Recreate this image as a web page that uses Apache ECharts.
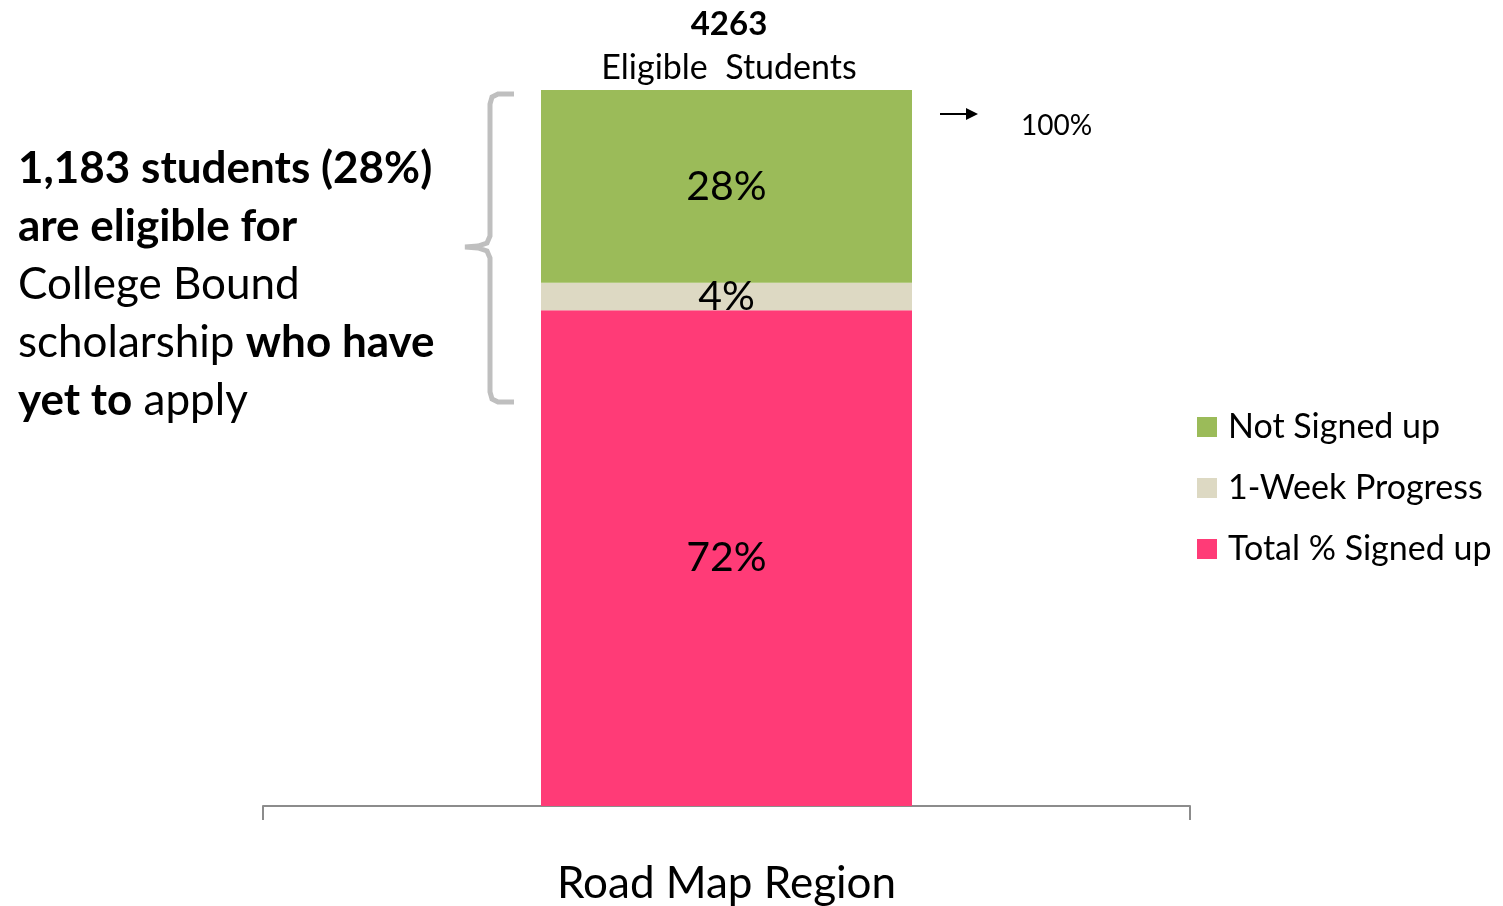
<!DOCTYPE html>
<html>
<head>
<meta charset="utf-8">
<script src="https://cdn.jsdelivr.net/npm/echarts@6/dist/echarts.min.js"></script>
<style>
  html, body { margin: 0; padding: 0; background: #fff; }
  #main { width: 1503px; height: 906px; }
</style>
</head>
<body>
<div id="main"></div>
<script>
var categories = ['Road Map Region']
var totalSigned = [72]
var weekProgress = [4]
var notSigned = [28]
var eligibleTotal = '4263'

var font = 'Lato'
var chartDom = document.getElementById('main')
var myChart = echarts.init(chartDom)

var pctLabel = {
  show: true,
  position: 'inside',
  color: '#000',
  fontFamily: font,
  fontSize: 41,
  formatter: function (p) { return p.value + '%' }
}

var option = {
  backgroundColor: '#fff',
  animation: false,
  textStyle: { fontFamily: font },
  grid: { left: 263, right: 313, top: 90, bottom: 100 },
  xAxis: {
    type: 'category',
    data: categories,
    axisLine: { lineStyle: { color: '#8c8c8c', width: 2 } },
    axisTick: { show: true, length: 14, alignWithLabel: false, lineStyle: { color: '#8c8c8c', width: 2 } },
    axisLabel: { color: '#000', fontSize: 44, margin: 56, fontFamily: font }
  },
  yAxis: {
    type: 'value',
    min: 0,
    max: 104,
    show: false
  },
  legend: {
    orient: 'vertical',
    left: 1192,
    top: 405,
    itemWidth: 20,
    itemHeight: 20,
    itemGap: 27,
    icon: 'rect',
    data: ['Not Signed up', '1-Week Progress', 'Total % Signed up'],
    textStyle: { color: '#000', fontSize: 34, fontFamily: font, padding: [0, 0, 0, 6] }
  },
  title: {
    text: eligibleTotal,
    subtext: 'Eligible  Students',
    left: 724,
    textAlign: 'center',
    top: 3,
    itemGap: 10,
    textStyle: { color: '#000', fontSize: 33, fontWeight: 'bold', fontFamily: font },
    subtextStyle: { color: '#000', fontSize: 34, fontFamily: font }
  },
  graphic: [
    {
      type: 'text',
      x: 18,
      y: 140,
      style: {
        text: '{b|1,183 students (28%)}\n{b|are eligible for}\n{n|College Bound}\n{n|scholarship }{b|who have}\n{b|yet to}{n| apply}',
        rich: {
          b: { fontFamily: font, fontSize: 44, fontWeight: 'bold', fill: '#000', lineHeight: 58 },
          n: { fontFamily: font, fontSize: 44, fill: '#000', lineHeight: 58 }
        }
      }
    },
    {
      type: 'polyline',
      shape: {
        points: [[514, 94], [498, 94], [492, 97], [490, 104], [490, 236], [487, 243], [478, 246], [465, 247],
          [478, 248], [487, 251], [490, 258], [490, 392], [492, 399], [498, 402], [514, 402]]
      },
      style: { fill: 'none', stroke: '#bfbfbf', lineWidth: 5 }
    },
    {
      type: 'line',
      shape: { x1: 940, y1: 114, x2: 968, y2: 114 },
      style: { stroke: '#000', lineWidth: 2 }
    },
    {
      type: 'polygon',
      shape: { points: [[966, 108], [978, 114], [966, 120]] },
      style: { fill: '#000' }
    },
    {
      type: 'text',
      x: 1021,
      y: 112,
      style: { text: '100%', fontFamily: font, fontSize: 28, fill: '#000' }
    }
  ],
  series: [
    {
      name: 'Total % Signed up',
      type: 'bar',
      stack: 'all',
      barWidth: 371,
      data: totalSigned,
      itemStyle: { color: '#FF3B77' },
      label: pctLabel
    },
    {
      name: '1-Week Progress',
      type: 'bar',
      stack: 'all',
      data: weekProgress,
      itemStyle: { color: '#DDD9C3' },
      label: pctLabel
    },
    {
      name: 'Not Signed up',
      type: 'bar',
      stack: 'all',
      data: notSigned,
      itemStyle: { color: '#9BBB59' },
      label: pctLabel
    }
  ]
}

option && myChart.setOption(option)
</script>
</body>
</html>
